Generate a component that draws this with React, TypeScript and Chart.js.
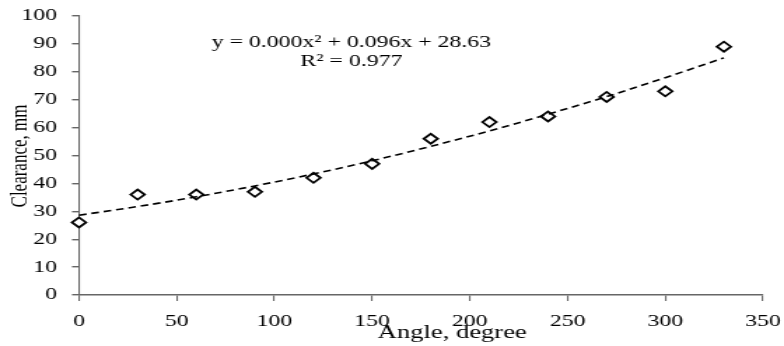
import React, { useEffect, useRef } from "react";
import { Chart, registerables } from "chart.js";

Chart.register(...registerables);

// ---- data ----
const angles = [0, 30, 60, 90, 120, 150, 180, 210, 240, 270, 300, 330];
const clearance = [26, 36, 36, 37, 42, 47, 56, 62, 64, 71, 73, 89];
const trendAngles = [0, 30, 60, 90, 120, 150, 180, 210, 240, 270, 300, 330];
const trendValues = [28.6, 31.7, 35.2, 39.1, 43.4, 48.1, 53.3, 58.8, 64.8, 71.1, 77.9, 85.0];
const xTickValues = [0, 50, 100, 150, 200, 250, 300, 350];
const yTickValues = [0, 10, 20, 30, 40, 50, 60, 70, 80, 90, 100];
const xTitle = "Angle, degree";
const yTitle = "Clearance, mm";
const equationLine1 = "y = 0.000x\u00B2 + 0.096x + 28.63";
const equationLine2 = "R\u00B2 = 0.977";

const FONT = '"Liberation Serif", "Times New Roman", serif';
const W = 784;
const H = 346;
const STRETCH = 1.4;
const LW = Math.round(W / STRETCH);
const AREA = { left: 79 / STRETCH, right: 763 / STRETCH, top: 16, bottom: 295 };

export default function App() {
  const ref = useRef<HTMLCanvasElement>(null);

  useEffect(() => {
    document.body.style.margin = "0";
    const canvas = ref.current;
    if (!canvas) return;

    const textPlugin = {
      id: "texts",
      afterDraw(chart: any) {
        const ctx = chart.ctx as CanvasRenderingContext2D;
        ctx.save();
        ctx.fillStyle = "#000";
        ctx.textAlign = "center";
        ctx.textBaseline = "alphabetic";
        ctx.font = `17px ${FONT}`;
        ctx.fillText(equationLine1, 251, 47);
        ctx.fillText(equationLine2, 251, 66);
        ctx.font = `19px ${FONT}`;
        ctx.fillText(xTitle, 323, 338);
        ctx.translate(14.6, 156);
        ctx.rotate(-Math.PI / 2);
        ctx.textBaseline = "middle";
        ctx.font = `17px ${FONT}`;
        ctx.fillText(yTitle, 0, 0);
        ctx.restore();
      },
    };

    const chart = new Chart(canvas, {
      type: "scatter",
      data: {
        datasets: [
          {
            label: "trend",
            data: trendAngles.map((x, i) => ({ x, y: trendValues[i] })),
            showLine: true,
            borderColor: "#000",
            borderWidth: 1.6,
            borderDash: [5.5, 3.5],
            pointRadius: 0,
            cubicInterpolationMode: "monotone",
            fill: false,
            clip: false,
          },
          {
            label: "Clearance",
            data: angles.map((x, i) => ({ x, y: clearance[i] })),
            showLine: false,
            pointStyle: "rectRot",
            pointRadius: 5,
            pointBorderWidth: 1.8,
            pointBorderColor: "#000",
            pointBackgroundColor: "#fff",
            clip: false,
          },
        ],
      },
      options: {
        animation: false,
        responsive: false,
        devicePixelRatio: 1,
        layout: {
          padding: { top: AREA.top, right: LW - AREA.right, left: 0, bottom: 0 },
        },
        plugins: {
          legend: { display: false },
          tooltip: { enabled: false },
        },
        scales: {
          x: {
            type: "linear",
            min: 0,
            max: 350,
            afterBuildTicks: (s: any) => {
              s.ticks = xTickValues.map((v) => ({ value: v }));
            },
            afterFit: (s: any) => {
              s.height = H - AREA.bottom;
              s.paddingLeft = 0;
              s.paddingRight = 0;
            },
            grid: {
              drawOnChartArea: false,
              drawTicks: true,
              tickLength: 6,
              color: "#666",
              lineWidth: 1.1,
            },
            border: { display: true, color: "#666", width: 1.4 },
            ticks: {
              color: "#000",
              font: { family: FONT, size: 17 },
              padding: 10,
              maxRotation: 0,
            },
          },
          y: {
            type: "linear",
            min: 0,
            max: 100,
            afterBuildTicks: (s: any) => {
              s.ticks = yTickValues.map((v) => ({ value: v }));
            },
            afterFit: (s: any) => {
              s.width = AREA.left;
              s.paddingTop = 0;
              s.paddingBottom = 0;
            },
            grid: {
              drawOnChartArea: false,
              drawTicks: true,
              tickLength: 5,
              color: "#666",
              lineWidth: 1.4,
            },
            border: { display: true, color: "#666", width: 1.1 },
            ticks: {
              color: "#000",
              font: { family: FONT, size: 17 },
              padding: 10.7,
            },
          },
        },
      },
      plugins: [textPlugin],
    } as any);

    return () => chart.destroy();
  }, []);

  return (
    <div style={{ position: "absolute", left: 0, top: 0, width: W, height: H }}>
      <canvas
        ref={ref}
        width={LW}
        height={H}
        style={{ width: `${W}px`, height: `${H}px`, display: "block" }}
      />
    </div>
  );
}
